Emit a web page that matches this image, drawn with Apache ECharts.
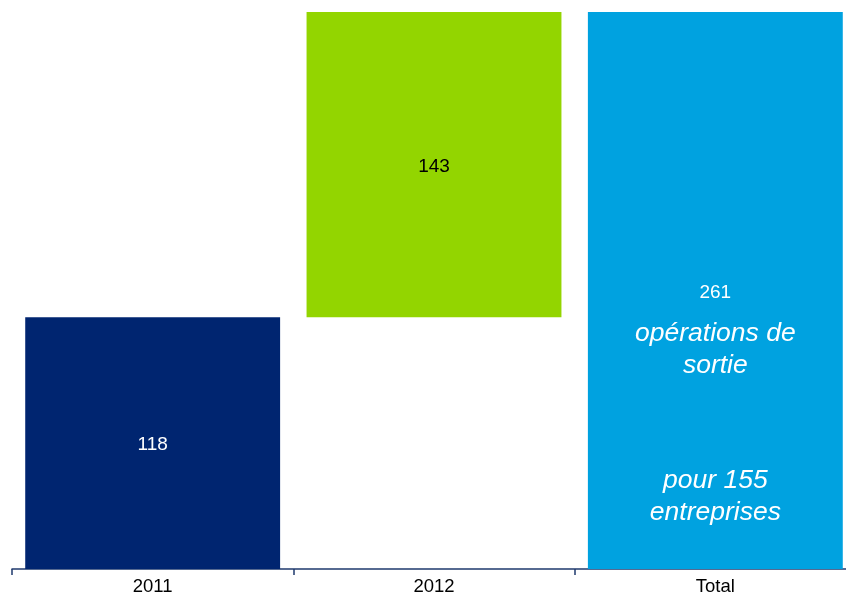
<!DOCTYPE html>
<html>
<head>
<meta charset="utf-8">
<script src="https://cdn.jsdelivr.net/npm/echarts@6/dist/echarts.min.js"></script>
<style>
  html, body { margin: 0; padding: 0; background: #fff; }
  #chart { width: 846px; height: 596px; }
</style>
</head>
<body>
<div id="chart"></div>
<script>
// 数据
const categories = ['2011', '2012', 'Total']
const baseValues = [0, 118, 0]
const barValues = [118, 143, 261]
const barColors = ['#002570', '#93D500', '#00A2E0']
const labelColors = ['#ffffff', '#000000', '#ffffff']
// 总计柱上的说明文字
const noteTexts = ['opérations de\nsortie', 'pour 155\nentreprises']
const noteValues = [103, 34]

const chart = echarts.init(document.getElementById('chart'))

const option = {
  animation: false,
  grid: {
    left: 12,
    top: 12,
    right: -10,
    bottom: 27,
    outerBoundsMode: 'none'
  },
  xAxis: {
    type: 'category',
    data: categories,
    axisLine: { lineStyle: { color: '#1F3A6E', width: 1.5 } },
    axisTick: { show: true, length: 6, lineStyle: { color: '#1F3A6E', width: 1.5 } },
    axisLabel: {
      color: '#000',
      fontSize: 18.5,
      fontFamily: 'Liberation Sans',
      margin: 8
    }
  },
  yAxis: {
    type: 'value',
    min: 0,
    max: 261,
    show: false,
    splitLine: { show: false }
  },
  series: [
    {
      type: 'bar',
      stack: 'w',
      data: baseValues,
      itemStyle: { color: 'transparent' },
      silent: true
    },
    {
      type: 'bar',
      stack: 'w',
      barCategoryGap: '9.4%',
      data: barValues.map((v, i) => ({
        value: v,
        itemStyle: { color: barColors[i] },
        label: { color: labelColors[i] }
      })),
      label: {
        show: true,
        position: 'inside',
        fontSize: 19,
        fontFamily: 'Liberation Sans',
        offset: [0, 2]
      }
    },
    {
      type: 'scatter',
      symbolSize: 0,
      itemStyle: { opacity: 1 },
      data: noteValues.map((v, i) => ({
        value: ['Total', v],
        label: { formatter: noteTexts[i] }
      })),
      label: {
        show: true,
        position: 'inside',
        color: '#fff',
        fontSize: 26.5,
        fontStyle: 'italic',
        fontFamily: 'Liberation Sans',
        lineHeight: 32,
        align: 'center'
      }
    }
  ]
}

chart.setOption(option)
</script>
</body>
</html>
